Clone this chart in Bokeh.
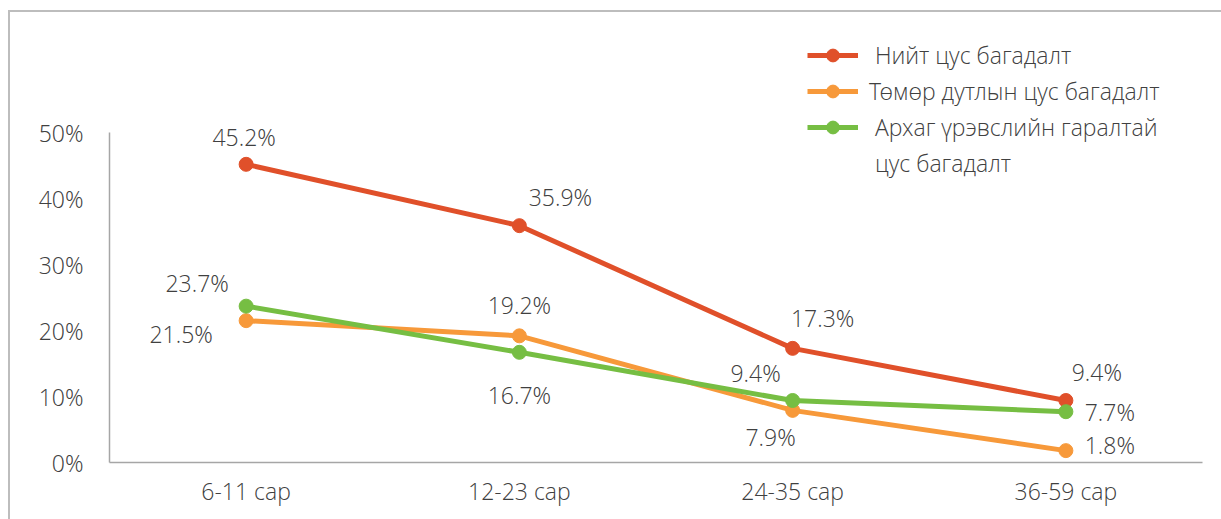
from bokeh.plotting import figure
from bokeh.models import (FactorRange, Range1d, FixedTicker, PrintfTickFormatter,
                          ColumnDataSource, Legend, LegendItem)
from bokeh.core.properties import value
from bokeh.embed import file_html
from bokeh.resources import INLINE

# Anaemia prevalence by age group (%)
age_groups = ["6-11 сар", "12-23 сар", "24-35 сар", "36-59 сар"]
total_anemia = [45.2, 35.9, 17.3, 9.4]
iron_def_anemia = [21.5, 19.2, 7.9, 1.8]
chronic_anemia = [23.7, 16.7, 9.4, 7.7]
series_names = [" Нийт цус багадалт",
                "Төмөр дутлын цус багадалт",
                " Архаг үрэвслийн гаралтай"]
legend_wrap = " цус багадалт"   # second line of the last legend entry
y_ticks = [0, 10, 20, 30, 40, 50]

# label placement (pixel offsets from each point)
label_dx = [[-2, 41, 30, 31], [-65, 0, -22, 44], [-49, 0, -37, 44]]
label_dy = [[-27, -29, -30, -28], [13, -31, 27, -6], [-23, 43, -27, 0]]

FONT = "Open Sans Light, Open Sans"
FONT_SIZE = "23px"
TEXT = "#404040"
AXIS = "#a6a6a6"
BORDER = "#bdbdbd"
colors = ["#E0502A", "#F7993A", "#76BE43"]

p = figure(width=1221, height=519,
           x_range=FactorRange(*age_groups, range_padding=0),
           y_range=Range1d(0, 67),
           output_backend="svg", toolbar_location=None,
           min_border_left=109, min_border_right=19,
           min_border_top=20, min_border_bottom=57)
p.title.visible = False
p.outline_line_color = None
p.xgrid.visible = False
p.ygrid.visible = False

# transparent canvas so the chart-area border painted behind it shows through
p.border_fill_alpha = 0
p.background_fill_alpha = 0
p.styles = {
    "background-color": "white",
    "background-image": f"linear-gradient({BORDER}, {BORDER}), linear-gradient({BORDER}, {BORDER})",
    "background-size": "2px 100%, 100% 2px",
    "background-position": "8px 10px, 8px 10px",
    "background-repeat": "no-repeat",
}

for ax in (p.xaxis, p.yaxis):
    ax.axis_line_color = AXIS
    ax.axis_line_width = 1.5
    ax.major_tick_line_color = None
    ax.minor_tick_line_color = None
    ax.major_tick_out = 0
    ax.major_tick_in = 0
    ax.major_label_text_font = FONT
    ax.major_label_text_font_size = FONT_SIZE
    ax.major_label_text_color = TEXT

p.xaxis.major_label_standoff = 12
p.yaxis.major_label_standoff = 26
p.yaxis.bounds = (0, 50)
p.yaxis.ticker = FixedTicker(ticks=y_ticks)
p.yaxis.formatter = PrintfTickFormatter(format="%d%%")

items = []
for i, vals in enumerate([total_anemia, iron_def_anemia, chronic_anemia]):
    src = ColumnDataSource(dict(
        x=age_groups, y=vals,
        label=[f"{v}%" for v in vals],
        dx=label_dx[i], dy=label_dy[i],
    ))
    ln = p.line("x", "y", source=src, line_color=colors[i], line_width=5)
    mk = p.scatter("x", "y", source=src, size=14,
                   fill_color=colors[i], line_color=colors[i])
    p.text("x", "y", text="label", source=src, x_offset="dx", y_offset="dy",
           text_align="center", text_baseline="middle",
           text_font=value(FONT), text_font_size=FONT_SIZE, text_color=TEXT)
    items.append(LegendItem(label=series_names[i], renderers=[ln, mk]))
items.append(LegendItem(label=legend_wrap, renderers=[]))

legend = Legend(items=items, location=(698, 283),
                glyph_width=51, glyph_height=32, label_standoff=11,
                padding=0, margin=0, spacing=4,
                border_line_color=None, background_fill_alpha=0,
                label_text_font=FONT, label_text_font_size=FONT_SIZE,
                label_text_color=TEXT)
p.add_layout(legend)

open("out.html", "w").write(file_html(p, INLINE))
